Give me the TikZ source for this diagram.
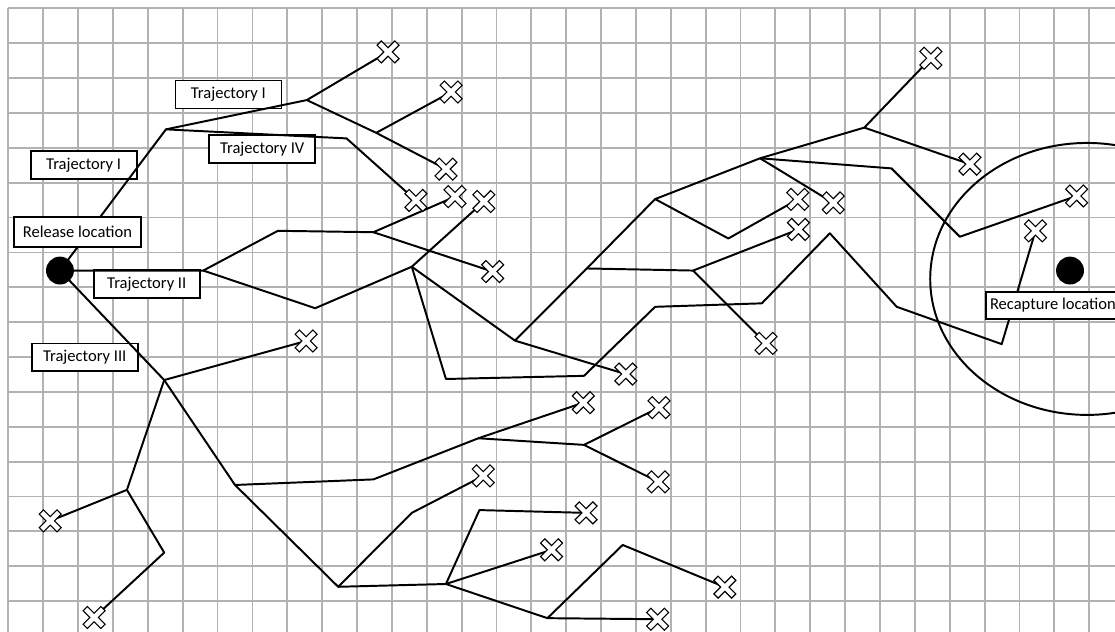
\documentclass[tikz,border=0pt]{standalone}
\usepackage{fontspec}
\setmainfont{Carlito}
\begin{document}
\begin{tikzpicture}[x=1cm,y=-1cm,
	gridline/.style={draw=black!30,line width=1.5pt},
	track/.style={line width=1.6pt,line join=round},
	tag/.style={draw,fill=white,line width=1.4pt,minimum width=3.04cm,minimum height=0.8cm,inner sep=0pt,font=\fontsize{13.5}{16}\selectfont},
	spot/.style={circle,fill=black,minimum size=0.8cm,inner sep=0pt},
	xmark/.pic={\filldraw[fill=white,line width=0.9pt,rotate=45] (-0.086,0.36) -- (0.086,0.36) -- (0.086,0.086) -- (0.36,0.086) -- (0.36,-0.086) -- (0.086,-0.086) -- (0.086,-0.36) -- (-0.086,-0.36) -- (-0.086,-0.086) -- (-0.36,-0.086) -- (-0.36,0.086) -- (-0.086,0.086) -- cycle;}]
	\useasboundingbox (-0.24,-0.24) rectangle (31.74,17.86);
	\clip (-0.24,-0.24) rectangle (31.74,17.86);
	% grid
	\foreach \i in {0,...,31} \draw[gridline] (\i,0) -- (\i,17.9);
	\foreach \j in {0,...,17} \draw[gridline] (0,\j) -- (31.8,\j);
	% branch points
	\coordinate (rel) at (1.48,7.52);
	\coordinate (a1) at (4.52,3.47);
	\coordinate (a2) at (8.56,2.63);
	\coordinate (a3) at (10.55,3.57);
	\coordinate (a4) at (9.70,3.73);
	\coordinate (b1) at (5.59,7.52);
	\coordinate (b2) at (7.73,6.38);
	\coordinate (b3) at (10.47,6.42);
	\coordinate (b4) at (8.80,8.60);
	\coordinate (b5) at (11.57,7.41);
	\coordinate (b6) at (12.55,10.63);
	\coordinate (b7) at (16.51,10.54);
	\coordinate (b8) at (18.55,8.56);
	\coordinate (b9) at (21.61,8.46);
	\coordinate (b10) at (23.56,6.45);
	\coordinate (b11) at (25.48,8.56);
	\coordinate (b12) at (28.49,9.63);
	\coordinate (c1) at (14.53,9.53);
	\coordinate (c2) at (16.59,7.46);
	\coordinate (c3) at (19.64,7.52);
	\coordinate (c4) at (18.55,5.47);
	\coordinate (c5) at (20.65,6.60);
	\coordinate (c6) at (21.56,4.30);
	\coordinate (c7) at (24.55,3.42);
	\coordinate (c8) at (25.33,4.59);
	\coordinate (c9) at (27.29,6.55);
	\coordinate (d1) at (4.47,10.66);
	\coordinate (d2) at (3.40,13.81);
	\coordinate (d3) at (4.47,15.61);
	\coordinate (d4) at (6.50,13.67);
	\coordinate (d5) at (10.47,13.51);
	\coordinate (d6) at (13.48,12.33);
	\coordinate (d7) at (16.51,12.52);
	\coordinate (d8) at (9.46,16.59);
	\coordinate (d9) at (12.55,16.51);
	\coordinate (d10) at (13.51,14.39);
	\coordinate (d11) at (15.46,17.49);
	\coordinate (d12) at (17.62,15.39);
	\coordinate (d13) at (11.57,14.47);
	% end points
	\coordinate (x1) at (10.89,1.25);
	\coordinate (x2) at (12.70,2.40);
	\coordinate (x3) at (12.55,4.61);
	\coordinate (x4) at (11.69,5.51);
	\coordinate (x5) at (12.81,5.40);
	\coordinate (x6) at (13.64,5.54);
	\coordinate (x7) at (13.89,7.55);
	\coordinate (x8) at (8.54,9.54);
	\coordinate (x9) at (1.20,14.70);
	\coordinate (x10) at (2.46,17.47);
	\coordinate (x11) at (16.49,11.31);
	\coordinate (x12) at (18.66,11.45);
	\coordinate (x13) at (18.64,13.58);
	\coordinate (x14) at (13.62,13.41);
	\coordinate (x15) at (16.57,14.47);
	\coordinate (x16) at (15.58,15.53);
	\coordinate (x17) at (20.55,16.60);
	\coordinate (x18) at (18.62,17.52);
	\coordinate (x19) at (17.71,10.49);
	\coordinate (x20) at (21.73,9.61);
	\coordinate (x21) at (26.46,1.43);
	\coordinate (x22) at (27.58,4.47);
	\coordinate (x23) at (22.64,5.48);
	\coordinate (x24) at (23.66,5.58);
	\coordinate (x25) at (22.66,6.34);
	\coordinate (x26) at (30.64,5.38);
	\coordinate (x27) at (29.46,6.38);
	% labels under the tracks
	\node[tag] (trajIa) at (2.16,4.49) {Trajectory I};
	\node[tag] (trajIb) at (6.31,2.47) {Trajectory I};
	\node[tag] (trajIV) at (7.28,4.04) {Trajectory IV};
	\node[tag] (trajII) at (3.97,7.91) {Trajectory II};
	\node[tag] (trajIII) at (2.19,10.01) {Trajectory III};
	% trajectory I and IV
	\draw[track] (rel) -- (a1) -- (a2) -- (a3) -- (x3);
	\draw[track] (a2) -- (x1);
	\draw[track] (a3) -- (x2);
	\draw[track] (a1) -- (a4) -- (x4);
	% trajectory II
	\draw[track] (rel) -- (b1) -- (b2) -- (b3) -- (x5);
	\draw[track] (b3) -- (x7);
	\draw[track] (b1) -- (b4) -- (b5) -- (x6);
	\draw[track] (b5) -- (b6) -- (b7) -- (b8) -- (b9) -- (b10) -- (b11) -- (b12) -- (x27);
	\draw[track] (b5) -- (c1) -- (x19);
	\draw[track] (c1) -- (c2) -- (c4) -- (c6) -- (c7) -- (x21);
	\draw[track] (c2) -- (c3) -- (x25);
	\draw[track] (c3) -- (x20);
	\draw[track] (c4) -- (c5) -- (x23);
	\draw[track] (c6) -- (x24);
	\draw[track] (c6) -- (c8) -- (c9) -- (x26);
	\draw[track] (c7) -- (x22);
	% trajectory III
	\draw[track] (rel) -- (d1) -- (x8);
	\draw[track] (d1) -- (d2) -- (x9);
	\draw[track] (d2) -- (d3) -- (x10);
	\draw[track] (d1) -- (d4) -- (d5) -- (d6) -- (x11);
	\draw[track] (d6) -- (d7) -- (x12);
	\draw[track] (d7) -- (x13);
	\draw[track] (d4) -- (d8) -- (d9) -- (x16);
	\draw[track] (d9) -- (d10) -- (x15);
	\draw[track] (d9) -- (d11) -- (x18);
	\draw[track] (d11) -- (d12) -- (x17);
	\draw[track] (d8) -- (d13) -- (x14);
	% recapture zone
	\draw[track] (30.94,7.76) ellipse [x radius=4.50, y radius=3.90];
	\foreach \k in {1,...,27} \pic at (x\k) {xmark};
	\node[spot] (release) at (rel) {};
	\node[spot] (recapture) at (30.45,7.52) {};
	\node[tag,minimum width=3.64cm,minimum height=0.86cm] (rellabel) at (1.98,6.42) {Release location};
	\node[tag,anchor=west,minimum width=0pt,minimum height=0.79cm,inner xsep=0.11cm] (reclabel) at (28.02,8.52) {Recapture location};
\end{tikzpicture}
\end{document}
